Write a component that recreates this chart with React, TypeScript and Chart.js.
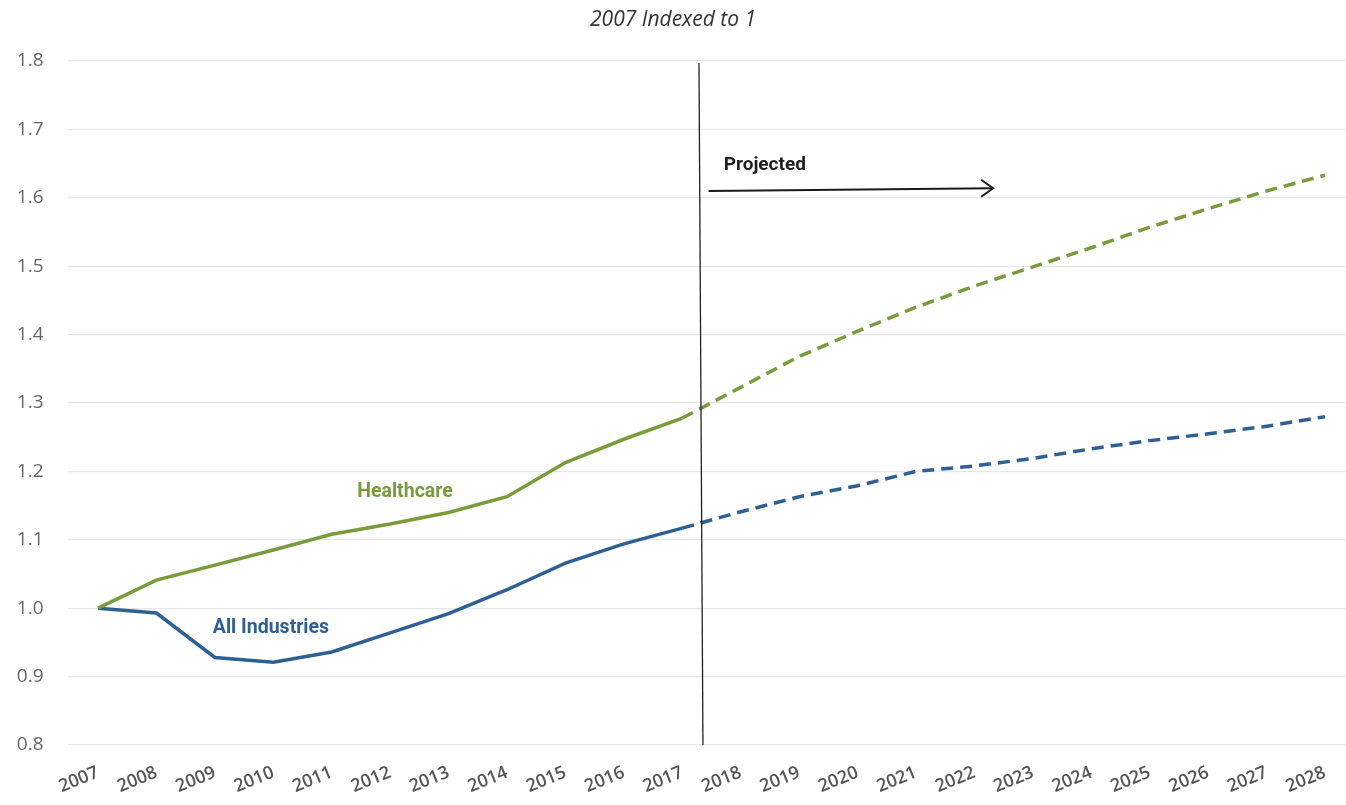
import React, { useEffect, useRef } from "react";
import { Chart, registerables } from "chart.js";

Chart.register(...registerables);

const years = [2007, 2008, 2009, 2010, 2011, 2012, 2013, 2014, 2015, 2016, 2017, 2018, 2019, 2020, 2021, 2022, 2023, 2024, 2025, 2026, 2027, 2028];
const healthcare = [1.0, 1.041, 1.063, 1.085, 1.108, 1.123, 1.14, 1.163, 1.213, 1.247, 1.278, 1.323, 1.368, 1.405, 1.44, 1.471, 1.499, 1.527, 1.557, 1.584, 1.61, 1.633];
const allIndustries = [1.0, 0.993, 0.928, 0.921, 0.936, 0.964, 0.992, 1.027, 1.066, 1.094, 1.117, 1.141, 1.163, 1.179, 1.2, 1.208, 1.219, 1.233, 1.245, 1.255, 1.266, 1.28];
const yTicks = [0.8, 0.9, 1.0, 1.1, 1.2, 1.3, 1.4, 1.5, 1.6, 1.7, 1.8];
const lastActualIndex = 10;

const GREEN = "#789b3b";
const BLUE = "#2e6094";

const annotationPlugin = {
  id: "annotations",
  afterDatasetsDraw(chart: any) {
    const { ctx, scales } = chart;
    const x = scales.x;
    const y = scales.y;
    ctx.save();
    // vertical divider
    ctx.strokeStyle = "#222";
    ctx.lineWidth = 1.3;
    ctx.beginPath();
    ctx.moveTo(x.getPixelForValue(2017.286), y.getPixelForValue(1.797));
    ctx.lineTo(x.getPixelForValue(2017.354), y.getPixelForValue(0.8));
    ctx.stroke();
    // arrow
    const ax0 = x.getPixelForValue(2017.45);
    const ay0 = y.getPixelForValue(1.61);
    const ax1 = x.getPixelForValue(2022.32);
    const ay1 = y.getPixelForValue(1.614);
    ctx.lineWidth = 2;
    ctx.strokeStyle = "#1a1a1a";
    ctx.beginPath();
    ctx.moveTo(ax0, ay0);
    ctx.lineTo(ax1, ay1);
    ctx.stroke();
    ctx.beginPath();
    ctx.moveTo(ax1 - 12, ay1 - 8.5);
    ctx.lineTo(ax1, ay1);
    ctx.lineTo(ax1 - 12, ay1 + 8.5);
    ctx.stroke();
    // texts
    ctx.textBaseline = "middle";
    ctx.font = "bold 19px Roboto";
    ctx.fillStyle = "#1e1e1e";
    ctx.textAlign = "left";
    ctx.fillText("Projected", x.getPixelForValue(2017.71), y.getPixelForValue(1.648));
    ctx.textAlign = "center";
    ctx.font = "bold 19.5px Roboto";
    ctx.fillStyle = GREEN;
    ctx.fillText("Healthcare", x.getPixelForValue(2012.254), y.getPixelForValue(1.17));
    ctx.fillStyle = BLUE;
    ctx.fillText("All Industries", x.getPixelForValue(2009.96), y.getPixelForValue(0.971));
    ctx.restore();
  },
};

export default function App() {
  const canvasRef = useRef<HTMLCanvasElement | null>(null);

  useEffect(() => {
    if (!canvasRef.current) return;
    const dash = (ctx: any) => (ctx.p0DataIndex >= lastActualIndex ? [12, 7] : undefined);
    const chart = new Chart(canvasRef.current, {
      type: "line",
      data: {
        datasets: [
          {
            label: "Healthcare",
            data: years.map((yr, i) => ({ x: yr, y: healthcare[i] })),
            borderColor: GREEN,
            borderWidth: 3.5,
            pointRadius: 0,
            tension: 0,
            fill: false,
            segment: { borderDash: dash },
          },
          {
            label: "All Industries",
            data: years.map((yr, i) => ({ x: yr, y: allIndustries[i] })),
            borderColor: BLUE,
            borderWidth: 3.5,
            pointRadius: 0,
            tension: 0,
            fill: false,
            segment: { borderDash: dash },
          },
        ],
      },
      options: {
        responsive: false,
        animation: false,
        layout: { padding: 0 },
        plugins: {
          legend: { display: false },
          tooltip: { enabled: false },
          title: {
            display: true,
            text: "2007 Indexed to 1",
            color: "#333",
            font: { family: "'Open Sans'", size: 21, style: "italic", weight: "normal", lineHeight: 1.2 },
            padding: { top: 7, bottom: 28.8 },
          },
        },
        scales: {
          x: {
            type: "linear",
            min: 2006.478,
            max: 2028.36,
            grid: { display: false },
            border: { display: false },
            afterBuildTicks: (scale: any) => {
              scale.ticks = years.map((v) => ({ value: v }));
            },
            afterFit: (scale: any) => {
              scale.height = 60;
            },
            ticks: {
              autoSkip: false,
              maxRotation: 22,
              minRotation: 22,
              padding: 9,
              color: "#555",
              font: { family: "'Open Sans'", size: 18, weight: "600" },
              callback: (v: any) => String(v),
            },
          },
          y: {
            min: 0.8,
            max: 1.8,
            afterBuildTicks: (scale: any) => {
              scale.ticks = yTicks.map((v) => ({ value: v }));
            },
            afterFit: (scale: any) => {
              scale.width = 67.5;
            },
            grid: { color: "#e6e6e6", lineWidth: 1.3, drawTicks: false },
            border: { display: false },
            ticks: {
              padding: 24,
              color: "#666",
              font: { family: "'Open Sans'", size: 19 },
              callback: (v: any) => Number(v).toFixed(1),
            },
          },
        },
      },
      plugins: [annotationPlugin],
    });
    return () => chart.destroy();
  }, []);

  return (
    <div style={{ position: "fixed", left: 0, top: 0, width: 1346, height: 805, background: "#fff" }}>
      <canvas ref={canvasRef} width={1346} height={805} />
    </div>
  );
}
